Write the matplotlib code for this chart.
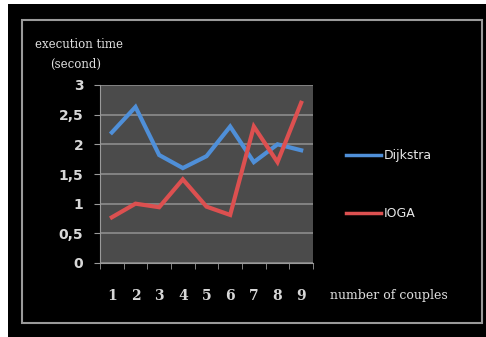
import matplotlib
matplotlib.use("Agg")
import matplotlib.pyplot as plt
from matplotlib.patches import Rectangle

couples = [1, 2, 3, 4, 5, 6, 7, 8, 9]
dijkstra = [2.2, 2.63, 1.82, 1.6, 1.8, 2.3, 1.7, 2.0, 1.9]
ioga = [0.77, 1.0, 0.94, 1.41, 0.95, 0.81, 2.3, 1.7, 2.7]
yticks = [0, 0.5, 1, 1.5, 2, 2.5, 3]
ytick_labels = ["0", "0,5", "1", "1,5", "2", "2,5", "3"]

W, H = 486, 337
fig = plt.figure(figsize=(W / 100, H / 100), dpi=100)
fig.patch.set_facecolor("white")

# black background + grey frame
fig.patches.append(Rectangle((8 / W, 0), 1, 1 - 4 / H, transform=fig.transFigure,
                             facecolor="black", edgecolor="none", zorder=-2))
fig.patches.append(Rectangle((22 / W, 1 - 323 / H), (482 - 22) / W, (323 - 20) / H,
                             transform=fig.transFigure, facecolor="none",
                             edgecolor="#9a9a9a", linewidth=1.5, zorder=-1))

ax = fig.add_axes([100 / W, 1 - 263 / H, (313 - 100) / W, (263 - 85) / H])
ax.set_zorder(2)
ax.set_facecolor("#4b4b4b")
ax.plot(couples, dijkstra, color="#4f8fd8", lw=3, label="Dijkstra", solid_joinstyle="miter")
ax.plot(couples, ioga, color="#dc5050", lw=3, label="IOGA", solid_joinstyle="miter")
ax.set_xlim(0.5, 9.5)
ax.set_ylim(0, 3)
ax.set_yticks(yticks)
ax.set_yticklabels(ytick_labels)
ax.set_xticks(couples)
ax.set_xticks([i + 0.5 for i in range(10)], minor=True)
ax.yaxis.grid(True, color="#8c8c8c", lw=1.2)
ax.set_axisbelow(True)
for s in ["top", "right"]:
    ax.spines[s].set_visible(False)
ax.spines["bottom"].set_color("#9a9a9a")
ax.spines["left"].set_color("#9a9a9a")
ax.tick_params(axis="x", which="major", length=0, pad=19, labelsize=10)
ax.tick_params(axis="x", which="minor", length=4, color="#9a9a9a")
ax.tick_params(axis="y", length=4, color="#9a9a9a", labelsize=10, pad=8)
for t in ax.get_xticklabels():
    t.set_family("DejaVu Serif")
    t.set_fontweight("bold")
    t.set_color("#d8d8d8")
for t in ax.get_yticklabels():
    t.set_fontweight("bold")
    t.set_color("#d8d8d8")

fig.text(35 / W, 1 - 44 / H, "execution time", family="DejaVu Serif", color="#e0e0e0",
         fontsize=8.5, va="center")
fig.text(50 / W, 1 - 64 / H, "(second)", family="DejaVu Serif", color="#e0e0e0",
         fontsize=8.5, va="center")
fig.text(330 / W, 1 - 296 / H, "number of couples", family="DejaVu Serif", color="#e0e0e0",
         fontsize=9, va="center")

leg = fig.legend(loc="upper left", bbox_to_anchor=(335 / W, 1 - 138 / H), frameon=False,
                 labelcolor="#e8e8e8", handlelength=2.8, handletextpad=0.2,
                 labelspacing=3.6, prop={"size": 9})
for line in leg.get_lines():
    line.set_linewidth(2.5)

fig.savefig("out.png", dpi=100, facecolor=fig.get_facecolor())
